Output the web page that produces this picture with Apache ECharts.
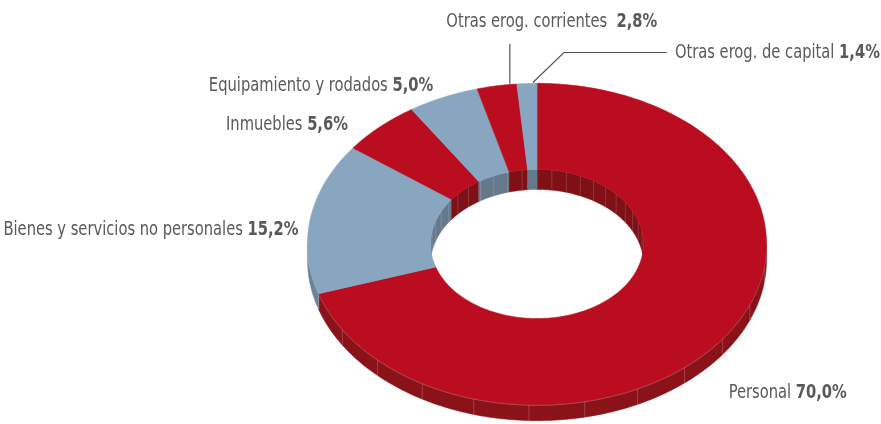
<!DOCTYPE html>
<html>
<head>
<meta charset="utf-8">
<script src="https://cdn.jsdelivr.net/npm/echarts@6/dist/echarts.min.js"></script>
<style>
  html, body { margin: 0; padding: 0; background: #fff; }
  #chart { width: 881px; height: 424px; }
</style>
</head>
<body>
<div id="chart"></div>
<script>
// datos del gráfico
const categories = [
  'Personal',
  'Bienes y servicios no personales',
  'Inmuebles',
  'Equipamiento y rodados',
  'Otras erog. corrientes',
  'Otras erog. de capital'
];
const values = [70.0, 15.2, 5.6, 5.0, 2.8, 1.4];
const percentLabels = ['70,0%', '15,2%', '5,6%', '5,0%', '2,8%', '1,4%'];

// colores: cara superior y lateral
const topColors = ['#BA0D20', '#88A6C0', '#BA0D20', '#88A6C0', '#BA0D20', '#88A6C0'];
const sideColors = ['#8A1219', '#6C8399', '#8A1219', '#6C8399', '#8A1219', '#6C8399'];
const innerColors = ['#7E1016', '#66798C', '#7E1016', '#66798C', '#7E1016', '#66798C'];

// geometria del anillo (perspectiva)
const CX = 537, CY = 244, R = 229.5, RIN = 106.5, K = 0.70, H = 16;
const TEXT_SCALE = 0.86;

// posicion de etiquetas relativa al punto medio de cada porcion
const labelLayout = [
  { dx: 6, dy: 55, align: 'left' },
  { dx: -12, dy: 12, align: 'right' },
  { dx: -32, dy: -2, align: 'right' },
  { dx: -10, dy: -11, align: 'right' },
  { dx: 55, dy: -64, align: 'center', leader: [[13, -2], [13, -42]] },
  { dx: 148, dy: -30, align: 'left', leader: [[6, -1], [37, -31], [140, -31]] }
];

const total = values.reduce((a, b) => a + b, 0);
const starts = [];
let acc = 0;
values.forEach(v => { starts.push(acc / total * 360); acc += v; });

function pt(r, deg, dy) {
  const a = deg * Math.PI / 180;
  return [CX + r * Math.sin(a), CY - r * K * Math.cos(a) + (dy || 0)];
}
function arc(r, a0, a1, dy) {
  const n = Math.max(2, Math.ceil(Math.abs(a1 - a0)));
  const out = [];
  for (let i = 0; i <= n; i++) out.push(pt(r, a0 + (a1 - a0) * i / n, dy));
  return out;
}
function clip(a0, a1, lo, hi) {
  const s = Math.max(a0, lo), e = Math.min(a1, hi);
  return s < e ? [s, e] : null;
}

function renderWalls(params, api) {
  const i = params.dataIndex;
  const a0 = starts[i], a1 = a0 + api.value(0) / total * 360;
  const children = [];
  // pared exterior (mitad frontal)
  const f = clip(a0, a1, 90, 270);
  if (f) {
    const poly = arc(R, f[0], f[1], 0).concat(arc(R, f[1], f[0], H));
    children.push({ type: 'polygon', shape: { points: poly },
      style: { fill: sideColors[i], stroke: sideColors[i], lineWidth: 0.5 } });
    for (let a = Math.ceil(f[0] / 14) * 14; a < f[1]; a += 14) {
      children.push({ type: 'line', shape: { x1: pt(R, a)[0], y1: pt(R, a)[1], x2: pt(R, a, H)[0], y2: pt(R, a, H)[1] },
        style: { stroke: 'rgba(255,255,255,0.25)', lineWidth: 0.8 } });
    }
    children.push({ type: 'polyline', shape: { points: arc(R, f[0], f[1], 0.6) },
      style: { stroke: 'rgba(255,210,210,0.45)', lineWidth: 0.8, fill: null } });
  }
  // pared interior (mitad trasera)
  [[270, 360], [0, 90]].forEach(rng => {
    const b = clip(a0, a1, rng[0], rng[1]);
    if (!b) return;
    const poly = arc(RIN, b[0], b[1], 0).concat(arc(RIN, b[1], b[0], H + 4));
    children.push({ type: 'polygon', shape: { points: poly },
      style: { fill: innerColors[i], stroke: innerColors[i], lineWidth: 0.5 } });
    for (let a = Math.ceil(b[0] / 8) * 8; a < b[1]; a += 8) {
      children.push({ type: 'line', shape: { x1: pt(RIN, a)[0], y1: pt(RIN, a)[1], x2: pt(RIN, a, H + 4)[0], y2: pt(RIN, a, H + 4)[1] },
        style: { stroke: 'rgba(255,255,255,0.2)', lineWidth: 0.8 } });
    }
  });
  return { type: 'group', children: children };
}

function renderTops(params, api) {
  const i = params.dataIndex;
  const a0 = starts[i], a1 = a0 + api.value(0) / total * 360;
  const poly = arc(R, a0, a1, 0).concat(arc(RIN, a1, a0, 0));
  return { type: 'polygon', shape: { points: poly },
    style: { fill: topColors[i], stroke: topColors[i], lineWidth: 0.6 } };
}

function renderLabels(params, api) {
  const i = params.dataIndex;
  const a0 = starts[i], a1 = a0 + api.value(0) / total * 360;
  const m = pt(R, (a0 + a1) / 2, 0);
  const lay = labelLayout[i];
  const children = [];
  if (lay.leader) {
    children.push({ type: 'polyline',
      shape: { points: lay.leader.map(p => [m[0] + p[0], m[1] + p[1]]) },
      style: { stroke: '#555', lineWidth: 1.2, fill: null } });
  }
  const gap = i === 4 ? '  ' : ' ';
  const font = '"Liberation Sans Narrow", "DejaVu Sans Condensed", sans-serif';
  children.push({ type: 'text',
    x: m[0] + lay.dx, y: m[1] + lay.dy,
    scaleX: TEXT_SCALE,
    style: {
      x: 0, y: 0,
      text: '{n|' + categories[i] + gap + '}{b|' + percentLabels[i] + '}',
      align: lay.align, verticalAlign: 'middle',
      rich: {
        n: { fontFamily: font, fontSize: 19, fill: '#595959', color: '#595959' },
        b: { fontFamily: font, fontSize: 19, fontWeight: 'bold', fill: '#595959', color: '#595959' }
      }
    } });
  return { type: 'group', children: children };
}

const chart = echarts.init(document.getElementById('chart'));
const seriesData = values.map((v, i) => ({ name: categories[i], value: [v] }));
chart.setOption({
  animation: false,
  backgroundColor: '#fff',
  series: [
    { type: 'custom', coordinateSystem: 'none', renderItem: renderWalls, data: seriesData, z: 1, silent: true },
    { type: 'custom', coordinateSystem: 'none', renderItem: renderTops, data: seriesData, z: 2, silent: true },
    { type: 'custom', coordinateSystem: 'none', renderItem: renderLabels, data: seriesData, z: 3, silent: true }
  ]
});
window.addEventListener('resize', () => chart.resize());
</script>
</body>
</html>
